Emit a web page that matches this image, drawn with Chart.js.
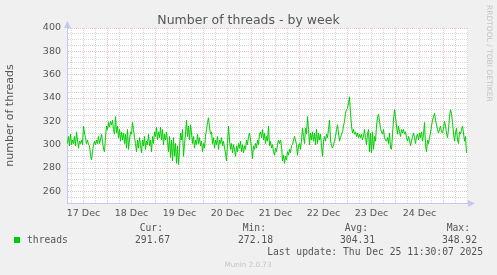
<!DOCTYPE html>
<html>
<head>
<meta charset="utf-8">
<title>Number of threads - by week</title>
<script src="https://cdn.jsdelivr.net/npm/chart.js@4.4.1/dist/chart.umd.min.js"></script>
<style>
  html, body { margin: 0; padding: 0; background: #f0f0f0; }
  canvas { display: block; }
</style>
</head>
<body>
<canvas id="threadsChart" width="497" height="275"></canvas>
<script>
// hours counted from 16 Dec 00:00, one sample every 30 minutes
const firstHour = 28;
const stepHours = 0.5;

const threads = [
  301, 307, 299, 309, 300, 304, 301, 307, 299, 311,
  304, 297, 303, 301, 304, 300, 316, 310, 306, 301,
  304, 300, 299, 291, 287, 294, 300, 303, 300, 304,
  301, 307, 301, 304, 309, 303, 296, 294, 306, 316,
  313, 319, 315, 320, 317, 321, 313, 309, 324, 310,
  316, 306, 313, 303, 311, 304, 310, 301, 309, 297,
  313, 296, 304, 311, 309, 319, 313, 306, 301, 294,
  304, 297, 306, 300, 293, 304, 299, 307, 296, 303,
  300, 309, 299, 304, 294, 307, 301, 311, 307, 315,
  304, 311, 306, 315, 304, 313, 300, 309, 304, 311,
  303,
  294, 307, 289, 304, 286, 306, 290, 301, 284, 299,
  283, 296, 310, 304, 313, 290, 301, 309, 321, 307,
  316, 304, 317, 310, 301, 307, 297, 304, 300, 309,
  301, 306, 299, 303, 294, 301, 297, 307, 313, 319,
  323, 315, 309, 311, 301, 306, 297, 304, 300, 307,
  296, 304, 301, 306, 299, 303, 297, 293, 286, 301,
  316, 304, 296, 301, 293, 300, 296, 290, 299, 294,
  301, 297, 303, 294, 300, 293, 299, 296, 304, 300,
  307, 310, 304, 297, 288, 299, 296, 301, 297, 304,
  300, 309, 311, 306, 313, 304, 310, 301, 307, 303,
  316, 299, 303, 297, 300, 294, 291, 297, 294, 300,
  304, 301, 304, 299, 286, 291, 284, 290, 287, 294,
  291, 296, 293, 299, 300, 304, 307, 304, 300, 291,
  299, 301, 296, 304, 314, 307, 301, 314, 309, 324,
  313, 300, 310, 304, 311, 303, 310, 300, 313, 301,
  310, 304, 309, 299, 290, 303, 307, 303, 309, 306,
  313, 321, 304, 299, 297, 300, 303, 307, 313, 317,
  310, 303, 306, 309, 311, 316, 320, 327, 330, 331,
  336, 341, 327, 316, 310, 313, 309, 311, 307, 310,
  306, 309, 306, 309, 304, 307, 313, 306, 300, 309,
  313, 294, 310, 293, 311, 296, 307, 303, 316, 323,
  326, 320, 314, 311, 309, 313, 306, 304, 303, 306,
  301, 310, 297, 296, 309, 321, 330, 324, 316, 309,
  316, 311, 307, 313, 310, 313, 309, 311, 306, 303,
  307, 304, 299, 303, 307, 310, 306, 301, 307, 309,
  304, 310, 306, 311, 303, 309, 319, 300, 294, 304,
  301, 306, 310, 316, 321, 324, 327, 321, 317, 313,
  310, 313, 316, 311, 310, 314, 320, 316, 310, 306,
  313, 324, 330, 327, 319, 310, 303, 310, 314, 304,
  301, 311, 309, 313, 316, 310, 303, 307, 293
];

const dayLabels = ['17 Dec', '18 Dec', '19 Dec', '20 Dec', '21 Dec', '22 Dec', '23 Dec', '24 Dec'];
const legendHeads = ['Cur:', 'Min:', 'Avg:', 'Max:'];
const legendValues = ['291.67', '272.18', '304.31', '348.92'];

const xMinHour = 27.75;
const xMaxHour = 228.25;
const yMin = 250;
const yMax = 400;

const lineGreen = '#00cc00';
const axisBlue = '#c4c8f4';
const majorGrid = 'rgba(225, 140, 140, 0.55)';
const minorGrid = 'rgba(165, 165, 165, 0.45)';
const textGray = '#555555';

Chart.defaults.font.family = '"DejaVu Sans", sans-serif';

const points = threads.map((v, i) => ({ x: firstHour + i * stepHours, y: v }));

// background, axis arrows and the rrdtool style texts
const muninFrame = {
  id: 'muninFrame',
  beforeDraw(chart) {
    const { ctx, chartArea: a } = chart;
    ctx.save();
    ctx.fillStyle = '#f0f0f0';
    ctx.fillRect(0, 0, chart.width, chart.height);
    ctx.fillStyle = '#ffffff';
    ctx.fillRect(a.left, a.top, a.right - a.left, a.bottom - a.top);
    ctx.restore();
  },
  afterDraw(chart) {
    const { ctx, chartArea: a } = chart;
    ctx.save();

    // arrows on the axes
    ctx.fillStyle = axisBlue;
    ctx.beginPath();
    ctx.moveTo(a.left - 3, a.top);
    ctx.lineTo(a.left + 4, a.top);
    ctx.lineTo(a.left + 0.5, a.top - 7);
    ctx.fill();
    ctx.beginPath();
    ctx.moveTo(a.right, a.bottom - 3);
    ctx.lineTo(a.right, a.bottom + 4);
    ctx.lineTo(a.right + 7, a.bottom + 0.5);
    ctx.fill();

    // title
    ctx.fillStyle = textGray;
    ctx.font = '12.5px "DejaVu Sans"';
    ctx.textAlign = 'center';
    ctx.textBaseline = 'alphabetic';
    ctx.fillText('Number of threads - by week', chart.width / 2, 23.5);

    // legend block
    ctx.font = '9.7px "DejaVu Sans Mono"';
    ctx.textAlign = 'right';
    const cols = [163, 266, 368, 470];
    legendHeads.forEach((h, i) => ctx.fillText(h, cols[i], 231));
    legendValues.forEach((v, i) => ctx.fillText(v, cols[i] + 7, 243));
    ctx.fillText('Last update: Thu Dec 25 11:30:07 2025', 483, 255);
    ctx.textAlign = 'left';
    ctx.fillText('threads', 27, 243);
    ctx.fillStyle = lineGreen;
    ctx.fillRect(14, 237, 6, 6);

    ctx.fillStyle = '#c4c4c4';
    ctx.font = '7.2px "DejaVu Sans"';
    ctx.textAlign = 'center';
    ctx.fillText('Munin 2.0.73', 248, 266.5);

    ctx.translate(489, 5);
    ctx.rotate(Math.PI / 2);
    ctx.font = '7.5px "DejaVu Sans"';
    ctx.textAlign = 'left';
    ctx.textBaseline = 'middle';
    ctx.fillText('RRDTOOL / TOBI OETIKER', 0, 0);
    ctx.restore();
  }
};

new Chart(document.getElementById('threadsChart'), {
  type: 'line',
  data: {
    datasets: [{
      label: 'threads',
      data: points,
      borderColor: lineGreen,
      borderWidth: 1,
      pointRadius: 0,
      fill: false,
      tension: 0
    }]
  },
  options: {
    responsive: false,
    animation: false,
    devicePixelRatio: 1,
    layout: { padding: { top: 28, right: 29, bottom: 0, left: 0 } },
    plugins: {
      legend: { display: false },
      tooltip: { enabled: false },
      title: { display: false }
    },
    scales: {
      x: {
        type: 'linear',
        min: xMinHour,
        max: xMaxHour,
        afterBuildTicks(scale) {
          const t = [];
          for (let h = 30; h <= xMaxHour; h += 6) t.push({ value: h });
          scale.ticks = t;
        },
        afterFit(scale) { scale.height = 72; },
        grid: {
          drawTicks: false,
          lineWidth: 1,
          color: c => (c.tick && c.tick.value % 24 === 0 ? majorGrid : minorGrid)
        },
        border: { color: axisBlue, width: 1, dash: [1, 1] },
        ticks: {
          autoSkip: false,
          maxRotation: 0,
          padding: 5,
          color: textGray,
          font: { size: 9.5 },
          callback: v => {
            if (v % 24 !== 12) return '';
            return dayLabels[(v - 36) / 24] || '';
          }
        }
      },
      y: {
        min: yMin,
        max: yMax,
        afterBuildTicks(scale) {
          const t = [];
          for (let v = yMin; v <= yMax; v += 5) t.push({ value: v });
          scale.ticks = t;
        },
        afterFit(scale) { scale.width = 67; },
        grid: {
          drawTicks: false,
          lineWidth: 1,
          color: c => (c.tick && c.tick.value % 20 === 0 ? majorGrid : minorGrid)
        },
        border: { color: axisBlue, width: 1, dash: [1, 1] },
        title: {
          display: true,
          text: 'number of threads',
          color: textGray,
          font: { size: 11 },
          padding: { top: 4, bottom: 0 }
        },
        ticks: {
          autoSkip: false,
          padding: 6,
          color: textGray,
          font: { size: 9.5 },
          callback: v => (v % 20 === 0 && v > yMin ? String(v) : '')
        }
      }
    }
  },
  plugins: [muninFrame]
});
</script>
</body>
</html>
